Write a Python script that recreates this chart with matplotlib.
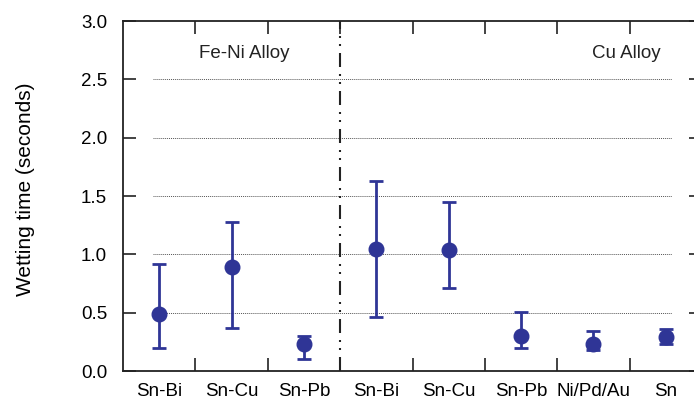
import matplotlib
matplotlib.use("Agg")
import matplotlib.pyplot as plt
import numpy as np

plt.rcParams['font.family'] = ['Liberation Sans', 'DejaVu Sans']

categories = ["Sn-Bi", "Sn-Cu", "Sn-Pb", "Sn-Bi", "Sn-Cu", "Sn-Pb", "Ni/Pd/Au", "Sn"]
mean_vals = [0.49, 0.89, 0.23, 1.05, 1.04, 0.30, 0.23, 0.29]
upper_vals = [0.92, 1.28, 0.30, 1.63, 1.45, 0.51, 0.34, 0.36]
lower_vals = [0.20, 0.37, 0.10, 0.46, 0.71, 0.20, 0.18, 0.23]
y_ticks = [0.0, 0.5, 1.0, 1.5, 2.0, 2.5, 3.0]
group_labels = ["Fe-Ni Alloy", "Cu Alloy"]

color = '#2f3596'

fig = plt.figure(figsize=(6.94, 4.05), dpi=100)
ax = fig.add_axes([123/694, 34/405, 579/694, 350/405])

x = np.arange(len(categories))
mean = np.array(mean_vals)
yerr = np.vstack([mean - np.array(lower_vals), np.array(upper_vals) - mean])

# gridlines
for yv in y_ticks[1:-1]:
    ax.plot([-0.09, 7.09], [yv, yv], linestyle=(0, (1, 1)), color='#555555', lw=0.7, zorder=1)

# separator
lw_sep = 1.5
pat = [14, 7, 2, 6, 2, 7]
pat = [p * 0.72 / lw_sep for p in pat]
ax.axvline(2.5, color='#222222', lw=lw_sep, linestyle=(0, tuple(pat)), zorder=2)

ax.errorbar(x, mean, yerr=yerr, fmt='o', color=color, ecolor=color, markersize=10.5,
            elinewidth=2.0, capsize=4.8, capthick=2.0, zorder=3)

ax.set_xlim(-0.5, 7.5)
ax.set_ylim(0, 3.0)
ax.set_yticks(y_ticks)
ax.set_yticklabels([f"{v:.1f}" for v in y_ticks])

ax.set_xticks(np.arange(0.5, 7.5, 1.0))
ax.set_xticklabels([])
ax.set_xticks(x, minor=True)
ax.set_xticklabels(categories, minor=True)

ax.tick_params(axis='both', which='major', direction='in', length=9.5, width=1.2,
               top=True, right=True, labelsize=13.5, color='#222222')
ax.tick_params(axis='y', which='major', pad=11.5)
ax.tick_params(axis='x', which='minor', length=0, labelsize=13.5, pad=9)
ax.tick_params(axis='x', which='minor', top=False)

for s in ax.spines.values():
    s.set_linewidth(1.3)
    s.set_color('#222222')

ax.set_ylabel("Wetting time (seconds)", fontsize=15)
ax.yaxis.set_label_coords(-0.152, 0.52)

ax.text(1.17, 2.72, group_labels[0], fontsize=13.5, ha='center', va='center', color='#222222')
ax.text(6.45, 2.72, group_labels[1], fontsize=13.5, ha='center', va='center', color='#222222')

fig.savefig("out.png", dpi=100)
